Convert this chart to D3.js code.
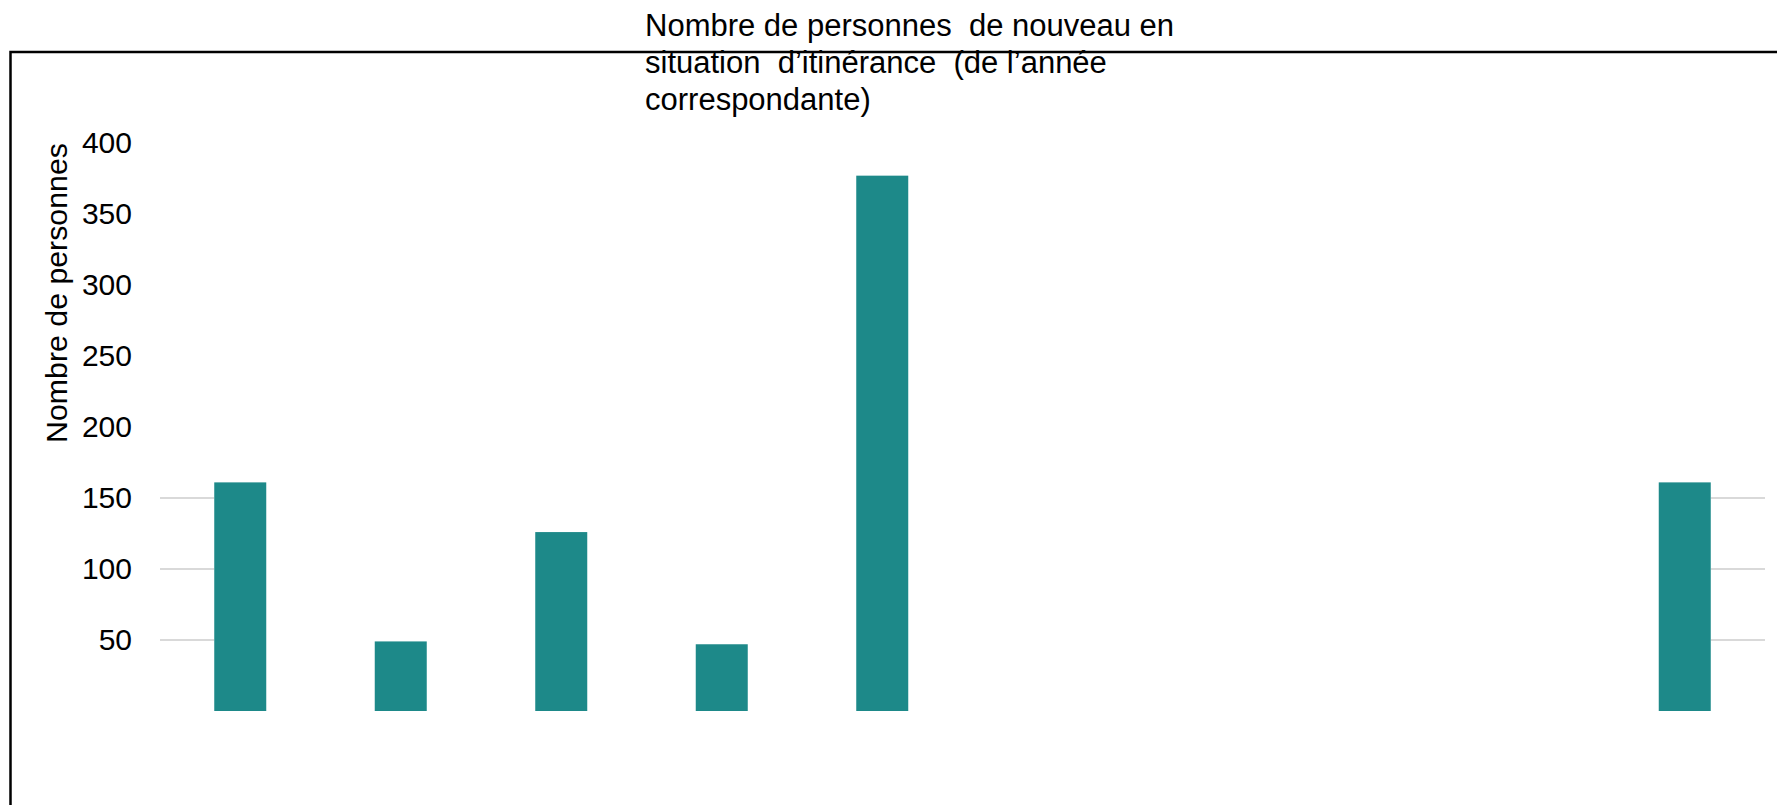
<!DOCTYPE html>
<html>
<head>
<meta charset="utf-8">
<script src="https://cdn.jsdelivr.net/npm/d3@7"></script>
<style>
  html, body { margin: 0; padding: 0; background: #fff; }
  svg { display: block; font-family: "Liberation Sans", Arial, sans-serif; }
</style>
</head>
<body>
<svg id="chart" width="1777" height="805"></svg>
<script>
// data (no category labels are printed in it)
var categories = ["c1", "c2", "c3", "c4", "c5", "c6", "c7", "c8", "c9", "c10"];
var values = [161, 49, 126, 47, 377, null, null, null, null, 161];
var tickValues = [50, 100, 150, 200, 250, 300, 350, 400];
var gridValues = [50, 100, 150];
var titleLines = [
    "Nombre de personnes  de nouveau en",
    "situation  d\u2019itin\u00e9rance  (de l\u2019ann\u00e9e",
    "correspondante)"
];
var yTitle = "Nombre de personnes";

var svg = d3.select("#chart");

var x = d3.scaleBand()
    .domain(categories)
    .range([160, 1765])
    .paddingInner(0.676)
    .paddingOuter(0.338);

var y = d3.scaleLinear()
    .domain([0, 400])
    .range([711, 143]);

// frame lines (top and left)
svg.append("path")
    .attr("d", "M10.5,805 L10.5,52 L1777,52")
    .attr("fill", "none")
    .attr("stroke", "#000")
    .attr("stroke-width", 2.5);

// gridlines - only visible outside the first and last bars in the original
var leftEnd = x(categories[0]);
var rightStart = x(categories[categories.length - 1]) + x.bandwidth();
var grid = svg.append("g");
[[160, leftEnd], [rightStart, 1765]].forEach(function(seg) {
    grid.selectAll(null)
        .data(gridValues)
        .enter().append("line")
        .attr("x1", seg[0])
        .attr("x2", seg[1])
        .attr("y1", function(d) { return y(d); })
        .attr("y2", function(d) { return y(d); })
        .attr("stroke", "#d9d9d9")
        .attr("stroke-width", 2);
});

// y axis labels
var yAxis = svg.append("g")
    .attr("transform", "translate(160,0)")
    .call(d3.axisLeft(y).tickValues(tickValues).tickSize(0).tickPadding(28));
yAxis.select(".domain").remove();
yAxis.selectAll("text")
    .attr("font-size", "30px")
    .attr("font-family", "'Liberation Sans', Arial, sans-serif")
    .attr("fill", "#000");

// bars
svg.append("g").selectAll("rect")
    .data(categories.map(function(c, i) { return {cat: c, v: values[i]}; })
        .filter(function(d) { return d.v != null; }))
    .enter().append("rect")
    .attr("x", function(d) { return x(d.cat); })
    .attr("width", x.bandwidth())
    .attr("y", function(d) { return y(d.v); })
    .attr("height", function(d) { return y(0) - y(d.v); })
    .attr("fill", "#1d8989");

// y title
svg.append("text")
    .attr("transform", "translate(67,293) rotate(-90)")
    .attr("text-anchor", "middle")
    .attr("font-size", "30.3px")
    .attr("fill", "#000")
    .text(yTitle);

// title
svg.append("g").selectAll("text")
    .data(titleLines)
    .enter().append("text")
    .attr("x", 645)
    .attr("y", function(d, i) { return 36 + i * 37; })
    .attr("font-size", "31px")
    .attr("fill", "#000")
    .style("white-space", "pre")
    .text(function(d) { return d; });
</script>
</body>
</html>
